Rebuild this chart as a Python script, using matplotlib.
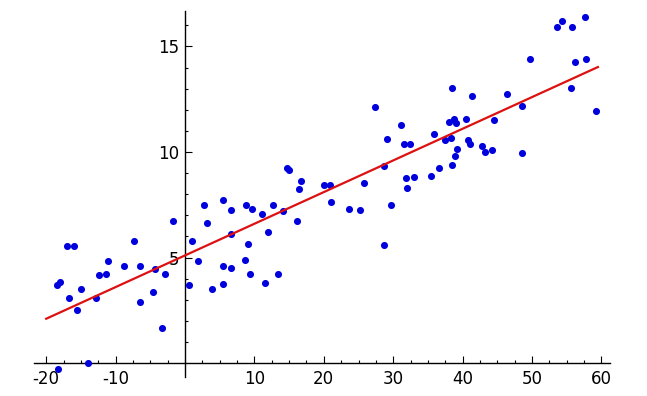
import numpy as np
from matplotlib import pyplot as plt
from matplotlib.ticker import FixedLocator

plt.rcParams['axes.unicode_minus'] = False

# -- data --
x_pts = [-18.3, -14.0, -17.05, -15.95, -18.5, -18.0, -16.75, -15.0, -15.6, -12.8,
         -12.35, -11.45, -11.15, -8.85, -7.3, -6.55, -6.5, -4.35, -4.6, -3.3,
         -2.9, -1.75, 0.95, 0.55, 1.9, 2.7, 3.15, 3.95, 5.5, 5.45,
         5.45, 6.65, 6.65, 6.6, 8.8, 9.6, 9.1, 8.6, 9.3, 11.05,
         11.9, 11.55, 12.7, 13.35, 14.15, 14.75, 14.95, 16.1, 16.45, 16.75,
         20.0, 20.9, 21.1, 23.7, 25.25, 25.8, 27.35, 28.7, 28.65, 29.65,
         29.1, 31.15, 31.6, 32.45, 31.9, 32.0, 33.0, 35.45, 35.9, 36.65,
         37.4, 38.45, 38.0, 38.8, 39.0, 38.35, 39.25, 38.95, 38.5, 41.35,
         40.5, 40.8, 41.05, 42.85, 43.25, 44.25, 44.55, 46.35, 48.55, 48.6,
         49.7, 53.6, 54.3, 55.75, 57.6, 56.25, 57.8, 55.6, 59.2]
y_pts = [-0.28, 0.0, 5.56, 5.56, 3.68, 3.85, 3.07, 3.51, 2.51, 3.09,
         4.16, 4.23, 4.85, 4.58, 5.77, 4.58, 2.89, 4.45, 3.38, 1.67,
         4.22, 6.73, 5.8, 3.68, 4.83, 7.49, 6.64, 3.51, 7.73, 4.61,
         3.74, 7.24, 6.13, 4.52, 7.49, 7.31, 5.63, 4.9, 4.2, 7.05,
         6.19, 3.78, 7.5, 4.22, 7.22, 9.23, 9.15, 6.73, 8.25, 8.61,
         8.45, 8.45, 7.63, 7.3, 7.27, 8.54, 12.12, 9.35, 5.61, 7.49,
         10.62, 11.27, 10.38, 10.39, 8.78, 8.29, 8.82, 8.86, 10.84, 9.26,
         10.57, 13.03, 11.42, 11.58, 11.39, 10.68, 10.16, 9.81, 9.38, 12.64,
         11.56, 10.55, 10.39, 10.3, 9.99, 10.11, 11.52, 12.76, 12.17, 9.94,
         14.39, 15.94, 16.21, 15.92, 16.38, 14.25, 14.39, 13.02, 11.94]

# fitted line
fit_x = [-20, 59.5]
fit_slope = 0.15
fit_icpt = 5.1

x_ticks = [-20, -10, 10, 20, 30, 40, 50, 60]
y_ticks = [5, 10, 15]

fig = plt.figure(figsize=(6.47, 3.96), dpi=100)
ax = fig.add_axes([0, 0, 1, 1])

ax.scatter(x_pts, y_pts, s=26, color='#0000dd', zorder=3, linewidths=0)
fx = np.array(fit_x)
ax.plot(fx, fit_icpt + fit_slope * fx, color='#dd1111', lw=1.6, zorder=4)

ax.set_xlim(-26.66, 66.57)
ax.set_ylim(-1.56, 17.2)

# axes cross at the origin
for s in ['top', 'right']:
    ax.spines[s].set_visible(False)
ax.spines['left'].set_position(('data', 0))
ax.spines['bottom'].set_position(('data', 0))
ax.spines['left'].set_bounds(-0.65, 16.7)
ax.spines['bottom'].set_bounds(-21.7, 61.2)
for s in ['left', 'bottom']:
    ax.spines[s].set_linewidth(1.0)

ax.set_xticks(x_ticks)
ax.set_yticks(y_ticks)
ax.xaxis.set_minor_locator(FixedLocator(np.arange(-20, 60.1, 2.5)))
ax.yaxis.set_minor_locator(FixedLocator(np.arange(1, 16.1, 1)))
ax.tick_params(which='both', direction='in', width=0.8, labelsize=12)
ax.tick_params(which='major', length=5)
ax.tick_params(which='minor', length=2.5)
ax.tick_params(axis='x', pad=5)
ax.tick_params(axis='y', pad=4)

plt.savefig('out.png', dpi=100)
